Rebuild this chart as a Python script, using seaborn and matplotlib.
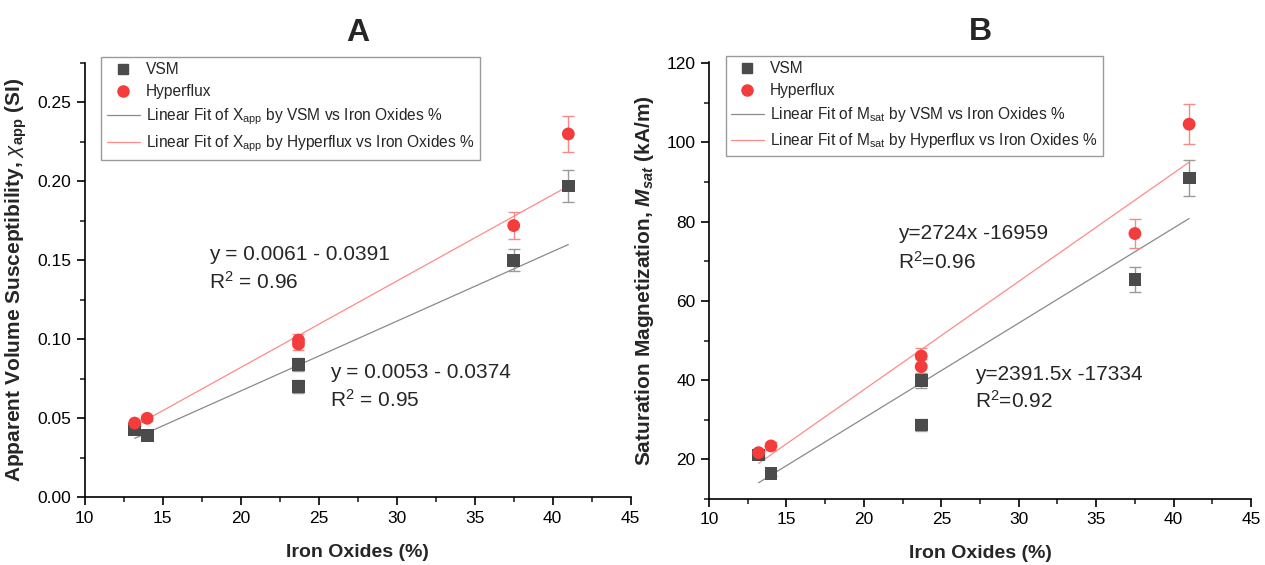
import numpy as np
import pandas as pd
import matplotlib
matplotlib.use("Agg")
import matplotlib.pyplot as plt
import seaborn as sns
from matplotlib.ticker import MultipleLocator
from matplotlib.lines import Line2D

# ---------------- data ----------------
iron = [13.2, 14.0, 23.7, 23.7, 37.5, 41.0]

a_vsm = [0.043, 0.039, 0.084, 0.070, 0.150, 0.197]
a_vsm_err = [0.002, 0.002, 0.004, 0.004, 0.007, 0.010]
a_hyp = [0.047, 0.050, 0.0995, 0.097, 0.172, 0.230]
a_hyp_err = [0.002, 0.002, 0.004, 0.004, 0.0085, 0.0115]

b_vsm = [21.1, 16.5, 40.0, 28.7, 65.4, 91.0]
b_vsm_err = [1.0, 0.8, 1.9, 1.5, 3.1, 4.5]
b_hyp = [21.7, 23.4, 46.1, 43.4, 77.0, 104.6]
b_hyp_err = [1.0, 1.0, 2.0, 2.0, 3.7, 5.0]

fit_x = [13.2, 41.0]
a_fit_vsm = [0.0373, 0.160]
a_fit_hyp = [0.045, 0.197]
b_fit_vsm = [14.1, 80.8]
b_fit_hyp = [19.0, 95.0]

# ---------------- style ----------------
sns.set_style("ticks")
plt.rcParams["font.family"] = ["Liberation Sans", "DejaVu Sans"]
plt.rcParams["mathtext.fontset"] = "custom"
plt.rcParams["mathtext.rm"] = "Liberation Sans"
plt.rcParams["mathtext.it"] = "Liberation Sans:italic"
plt.rcParams["mathtext.bf"] = "Liberation Sans:bold"
try:
    plt.rcParams["mathtext.bfit"] = "Liberation Sans:italic:bold"
except Exception:
    pass

GRAY = "#4b4b4b"
RED = "#f43c3c"
GRAY_ERR = "#9a9a9a"
RED_ERR = "#f58a8a"
GRAY_LINE = "#8a8a8a"
RED_LINE = "#ff8a8a"

fig = plt.figure(figsize=(12.65, 5.65), dpi=100)
axA = fig.add_axes([0.067, 0.1198, 0.4316, 0.769])
axB = fig.add_axes([0.5605, 0.1168, 0.4285, 0.7735])


def draw(ax, vsm, vsm_err, hyp, hyp_err, fvsm, fhyp, sub):
    dfp = pd.DataFrame({"x": iron * 2, "y": vsm + hyp,
                        "s": ["VSM"] * len(iron) + ["Hyperflux"] * len(iron)})
    lab_v = f"Linear Fit of {sub} by VSM vs Iron Oxides %"
    lab_h = f"Linear Fit of {sub} by Hyperflux vs Iron Oxides %"
    dff = pd.DataFrame({"x": fit_x * 2, "y": fvsm + fhyp,
                        "s": [lab_v] * 2 + [lab_h] * 2})
    ax.errorbar(iron, vsm, yerr=vsm_err, fmt="none", ecolor=GRAY_ERR,
                elinewidth=1.0, capsize=4, capthick=1.0, zorder=2)
    ax.errorbar(iron, hyp, yerr=hyp_err, fmt="none", ecolor=RED_ERR,
                elinewidth=1.0, capsize=4, capthick=1.0, zorder=2)
    sns.lineplot(data=dff, x="x", y="y", hue="s",
                 palette=[GRAY_LINE, RED_LINE], linewidth=0.9, ax=ax,
                 legend=False, zorder=1)
    sns.scatterplot(data=dfp, x="x", y="y", hue="s", style="s",
                    markers={"VSM": "s", "Hyperflux": "o"},
                    palette={"VSM": GRAY, "Hyperflux": RED},
                    s=85, edgecolor="none", ax=ax, legend=False, zorder=3)
    handles = [
        Line2D([], [], marker="s", ls="none", color=GRAY, markersize=7),
        Line2D([], [], marker="o", ls="none", color=RED, markersize=8),
        Line2D([], [], color=GRAY_LINE, lw=0.9),
        Line2D([], [], color=RED_LINE, lw=0.9),
    ]
    labels = ["VSM", "Hyperflux", lab_v, lab_h]
    leg = ax.legend(handles, labels, loc="upper left", bbox_to_anchor=(0.022, 1.025),
                    fontsize=11.2, frameon=True, fancybox=False, framealpha=1,
                    edgecolor="#9a9a9a", borderpad=0.35, labelspacing=0.45,
                    handlelength=2.1, handletextpad=0.4, borderaxespad=0.3)
    leg.get_frame().set_linewidth(1.0)

    ax.set_xlim(10, 45)
    ax.xaxis.set_major_locator(MultipleLocator(5))
    ax.xaxis.set_minor_locator(MultipleLocator(2.5))
    ax.set_xlabel("Iron Oxides (%)", fontsize=14, fontweight="bold", labelpad=13)
    for side in ["top", "right"]:
        ax.spines[side].set_visible(False)
    for side in ["left", "bottom"]:
        ax.spines[side].set_linewidth(1.2)
        ax.spines[side].set_color("black")
    ax.tick_params(which="major", direction="out", length=6, width=1.2,
                   labelsize=12.5, colors="black")
    ax.tick_params(which="minor", direction="out", length=3.5, width=1.2)


draw(axA, a_vsm, a_vsm_err, a_hyp, a_hyp_err, a_fit_vsm, a_fit_hyp, r"X$_{\mathrm{app}}$")
draw(axB, b_vsm, b_vsm_err, b_hyp, b_hyp_err, b_fit_vsm, b_fit_hyp, r"M$_{\mathrm{sat}}$")

axA.set_ylim(0, 0.275)
axA.yaxis.set_major_locator(MultipleLocator(0.05))
axA.yaxis.set_minor_locator(MultipleLocator(0.025))
axA.yaxis.set_major_formatter(matplotlib.ticker.FormatStrFormatter("%.2f"))
axA.set_ylabel(r"Apparent Volume Susceptibility, $\chi_{\mathbf{app}}$ (SI)",
               fontsize=15, fontweight="bold", labelpad=6)
axA.set_title("A", fontsize=23, fontweight="bold", pad=16)

axB.set_ylim(10, 120.3)
axB.yaxis.set_major_locator(MultipleLocator(20))
axB.yaxis.set_minor_locator(MultipleLocator(10))
axB.set_ylabel(r"Saturation Magnetization, $\mathbfit{M}_{\mathbfit{sat}}$ (kA/m)",
               fontsize=15, fontweight="bold", labelpad=8)
axB.set_title("B", fontsize=23, fontweight="bold", pad=16)

fs = 15
axA.text(17.97, 0.154, "y = 0.0061 - 0.0391", fontsize=fs, va="center")
axA.text(17.97, 0.1364, r"R$^2$ = 0.96", fontsize=fs, va="center")
axA.text(25.72, 0.0793, "y = 0.0053 - 0.0374", fontsize=fs, va="center")
axA.text(25.72, 0.0616, r"R$^2$ = 0.95", fontsize=fs, va="center")

axB.text(22.19, 77.1, "y=2724x -16959", fontsize=fs, va="center")
axB.text(22.19, 69.8, r"R$^2$=0.96", fontsize=fs, va="center")
axB.text(27.16, 41.5, "y=2391.5x -17334", fontsize=fs, va="center")
axB.text(27.16, 34.7, r"R$^2$=0.92", fontsize=fs, va="center")

fig.savefig("out.png", dpi=100)
